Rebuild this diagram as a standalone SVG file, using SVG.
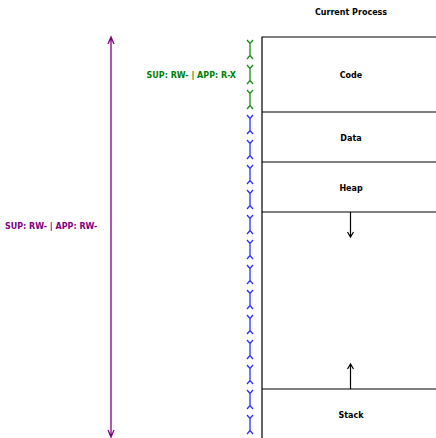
<svg xmlns="http://www.w3.org/2000/svg" xmlns:xlink="http://www.w3.org/1999/xlink" width="436" height="438" viewBox="0 0 436 438">
<style>
text{font-family:"DejaVu Sans",sans-serif;font-weight:bold;font-size:8px}
.c{text-anchor:middle;fill:#000}
.box{fill:none;stroke:#000;stroke-width:1.2}
.ar{fill:none;stroke:#000;stroke-width:1.2}
.g{stroke:#1a8a1a;fill:none;stroke-width:1.3}
.b{stroke:#2f2fff;fill:none;stroke-width:1.3}
.p{stroke:#800080;fill:none;stroke-width:1.3}
</style>
<defs>
<path id="seg" d="M247,3 L250,6.5 L253,3 M250,6.5 V18.5 M247,22 L250,18.5 L253,22"/>
</defs>
<rect width="436" height="438" fill="#fff"/>
<g id="title"><text class="c" x="351" y="15">Current Process</text></g>
<g id="memory">
<path class="box" d="M437,37 H262 V438 M262,112 H437 M262,162 H437 M262,212 H437 M262,389 H437"/>
</g>
<g id="code"><text class="c" x="351" y="77.5">Code</text></g>
<g id="data"><text class="c" x="351" y="140.5">Data</text></g>
<g id="heap"><text class="c" x="351" y="190.5">Heap</text></g>
<g id="stack"><text class="c" x="351" y="417.5">Stack</text></g>
<g id="connectors">
<path class="ar" d="M350.5,212 V237 M347.5,232 L350.5,237 L353.5,232"/>
<path class="ar" d="M350.5,389 V364 M347.5,369 L350.5,364 L353.5,369"/>
<path class="p" d="M111,37 V437 M108,44 L111,37 L114,44 M108,430 L111,437 L114,430"/>
<g class="g">
<use xlink:href="#seg" y="37"/><use xlink:href="#seg" y="62"/><use xlink:href="#seg" y="87"/>
</g>
<g class="b">
<use xlink:href="#seg" y="112"/><use xlink:href="#seg" y="137"/><use xlink:href="#seg" y="162"/><use xlink:href="#seg" y="187"/><use xlink:href="#seg" y="212"/><use xlink:href="#seg" y="237"/><use xlink:href="#seg" y="262"/><use xlink:href="#seg" y="287"/><use xlink:href="#seg" y="312"/><use xlink:href="#seg" y="337"/><use xlink:href="#seg" y="362"/><use xlink:href="#seg" y="387"/><use xlink:href="#seg" y="412"/>
</g>
</g>
<g id="perm-app"><text x="236" y="77.5" text-anchor="end" fill="#008000">SUP: RW- | APP: R-X</text></g>
<g id="perm-all"><text x="5" y="228.5" fill="#800080">SUP: RW- | APP: RW-</text></g>
</svg>
